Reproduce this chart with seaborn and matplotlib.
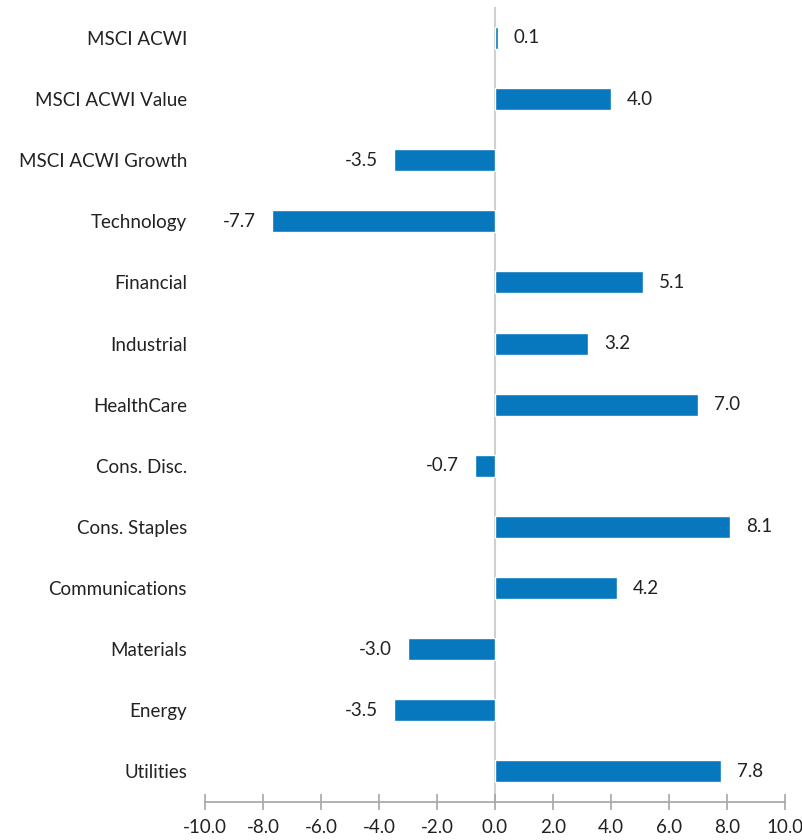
import matplotlib
matplotlib.use("Agg")
import matplotlib.pyplot as plt
import seaborn as sns
import pandas as pd

categories = ["MSCI ACWI", "MSCI ACWI Value", "MSCI ACWI Growth", "Technology",
              "Financial", "Industrial", "HealthCare", "Cons. Disc.", "Cons. Staples",
              "Communications", "Materials", "Energy", "Utilities"]
values = [0.1, 4.0, -3.5, -7.7, 5.1, 3.2, 7.0, -0.7, 8.1, 4.2, -3.0, -3.5, 7.8]
x_ticks = [-10, -8, -6, -4, -2, 0, 2, 4, 6, 8, 10]

sns.set_style("white")
plt.rcParams['font.family'] = ['Lato', 'DejaVu Sans']

df = pd.DataFrame({"cat": categories, "val": values})

fig = plt.figure(figsize=(8.03, 8.4), dpi=100)
ax = fig.add_axes([0.2553, 0.0452, 0.7223, 0.946])
sns.barplot(data=df, x="val", y="cat", orient="h", color="#0878BE",
            width=0.36, saturation=1, ax=ax)

ax.set_xlim(-10, 10)
ax.set_ylim(12.5, -0.5)
ax.set_xticks(x_ticks)
ax.set_xticklabels([f"{t:.1f}" for t in x_ticks], fontsize=13.5, color="#222222")
ax.tick_params(axis="x", bottom=True, direction="inout", length=11, width=1.2,
               color="#A6A6A6", pad=7)
ax.tick_params(axis="y", left=False, length=0, pad=13, labelsize=13.5, labelcolor="#222222")
ax.set_xlabel("")
ax.set_ylabel("")

for s in ["top", "right", "left"]:
    ax.spines[s].set_visible(False)
ax.spines["bottom"].set_color("#A6A6A6")
ax.spines["bottom"].set_linewidth(1.2)
ax.axvline(0, color="#D0D0D0", lw=1.5, zorder=0)

for i, v in enumerate(values):
    off = 0.55 if v >= 0 else -0.55
    ax.text(v + off, i, f"{v:.1f}", va="center", ha="left" if v >= 0 else "right",
            fontsize=13.5, color="#222222")

fig.savefig("out.png", dpi=100)
